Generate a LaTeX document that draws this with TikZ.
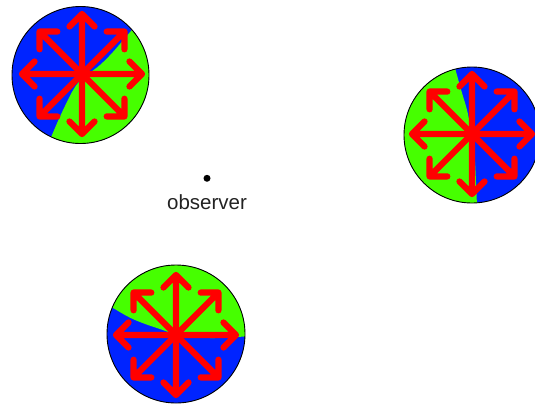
\documentclass[tikz,border=0pt]{standalone}
\usepackage{fontspec}
\setmainfont{Liberation Sans}
\definecolor{sphblue}{RGB}{0,36,255}
\definecolor{sphgreen}{RGB}{70,255,0}
\definecolor{arrred}{RGB}{255,0,0}
\definecolor{txtgray}{RGB}{34,34,34}
\tikzset{
  arrowline/.style={arrred, line width=6.3pt, line cap=round, line join=round},
  outline/.style={black, line width=0.9pt},
}
\newcommand\burst[1]{%
  \foreach \ang in {0,45,...,315}{%
    \draw[arrowline, shift={#1}, rotate=\ang] (0,0) -- (60,0) (47.5,12.5) -- (60,0) -- (47.5,-12.5);
  }%
}
\begin{document}
\begin{tikzpicture}[x=1pt,y=-1pt]
\useasboundingbox (0,0) rectangle (535,405);
% sphere 1
\coordinate (c1) at (80.5,75);
\fill[sphblue] (c1) circle (68.5);
\begin{scope}
  \clip (c1) circle (68.5);
  \fill[sphgreen] plot[smooth] coordinates {(140,22) (131,31) (113,52) (100,65) (87,75) (78,83) (72,92) (65,106) (58,121) (49,142)} -- (40,170) -- (170,170) -- (170,0) -- (140,0) -- cycle;
\end{scope}
\draw[outline] (c1) circle (68.5);
\burst{(82,74)}
% sphere 2
\begin{scope}
  \clip (0,0) rectangle (535,405);
  \coordinate (c2) at (472,135);
  \fill[sphblue] (c2) circle (68);
  \begin{scope}
    \clip (c2) circle (68);
    \fill[sphgreen] plot[smooth] coordinates {(453,60) (455,68) (462,93) (467,110) (472,135) (475,162) (477,205) (478,212)} -- (390,212) -- (390,60) -- cycle;
  \end{scope}
  \draw[outline] (c2) circle (68);
  \burst{(472,134)}
\end{scope}
% sphere 3
\coordinate (c3) at (176,334);
\fill[sphblue] (c3) circle (69);
\begin{scope}
  \clip (c3) circle (69);
  \fill[sphgreen] plot[smooth] coordinates {(100,301) (113,308) (125,315) (135,320) (148,325) (160,329) (176,334) (210,338) (252,336)} -- (252,255) -- (100,255) -- cycle;
\end{scope}
\draw[outline] (c3) circle (69);
\burst{(176,335)}
% observer
\fill[black] (207,178.3) circle (3.5) coordinate (obs);
\node[anchor=base, inner sep=0pt, text=txtgray, font=\fontsize{20.5}{24}\selectfont] (obslabel) at (207,209) {observer};
\end{tikzpicture}
\end{document}
